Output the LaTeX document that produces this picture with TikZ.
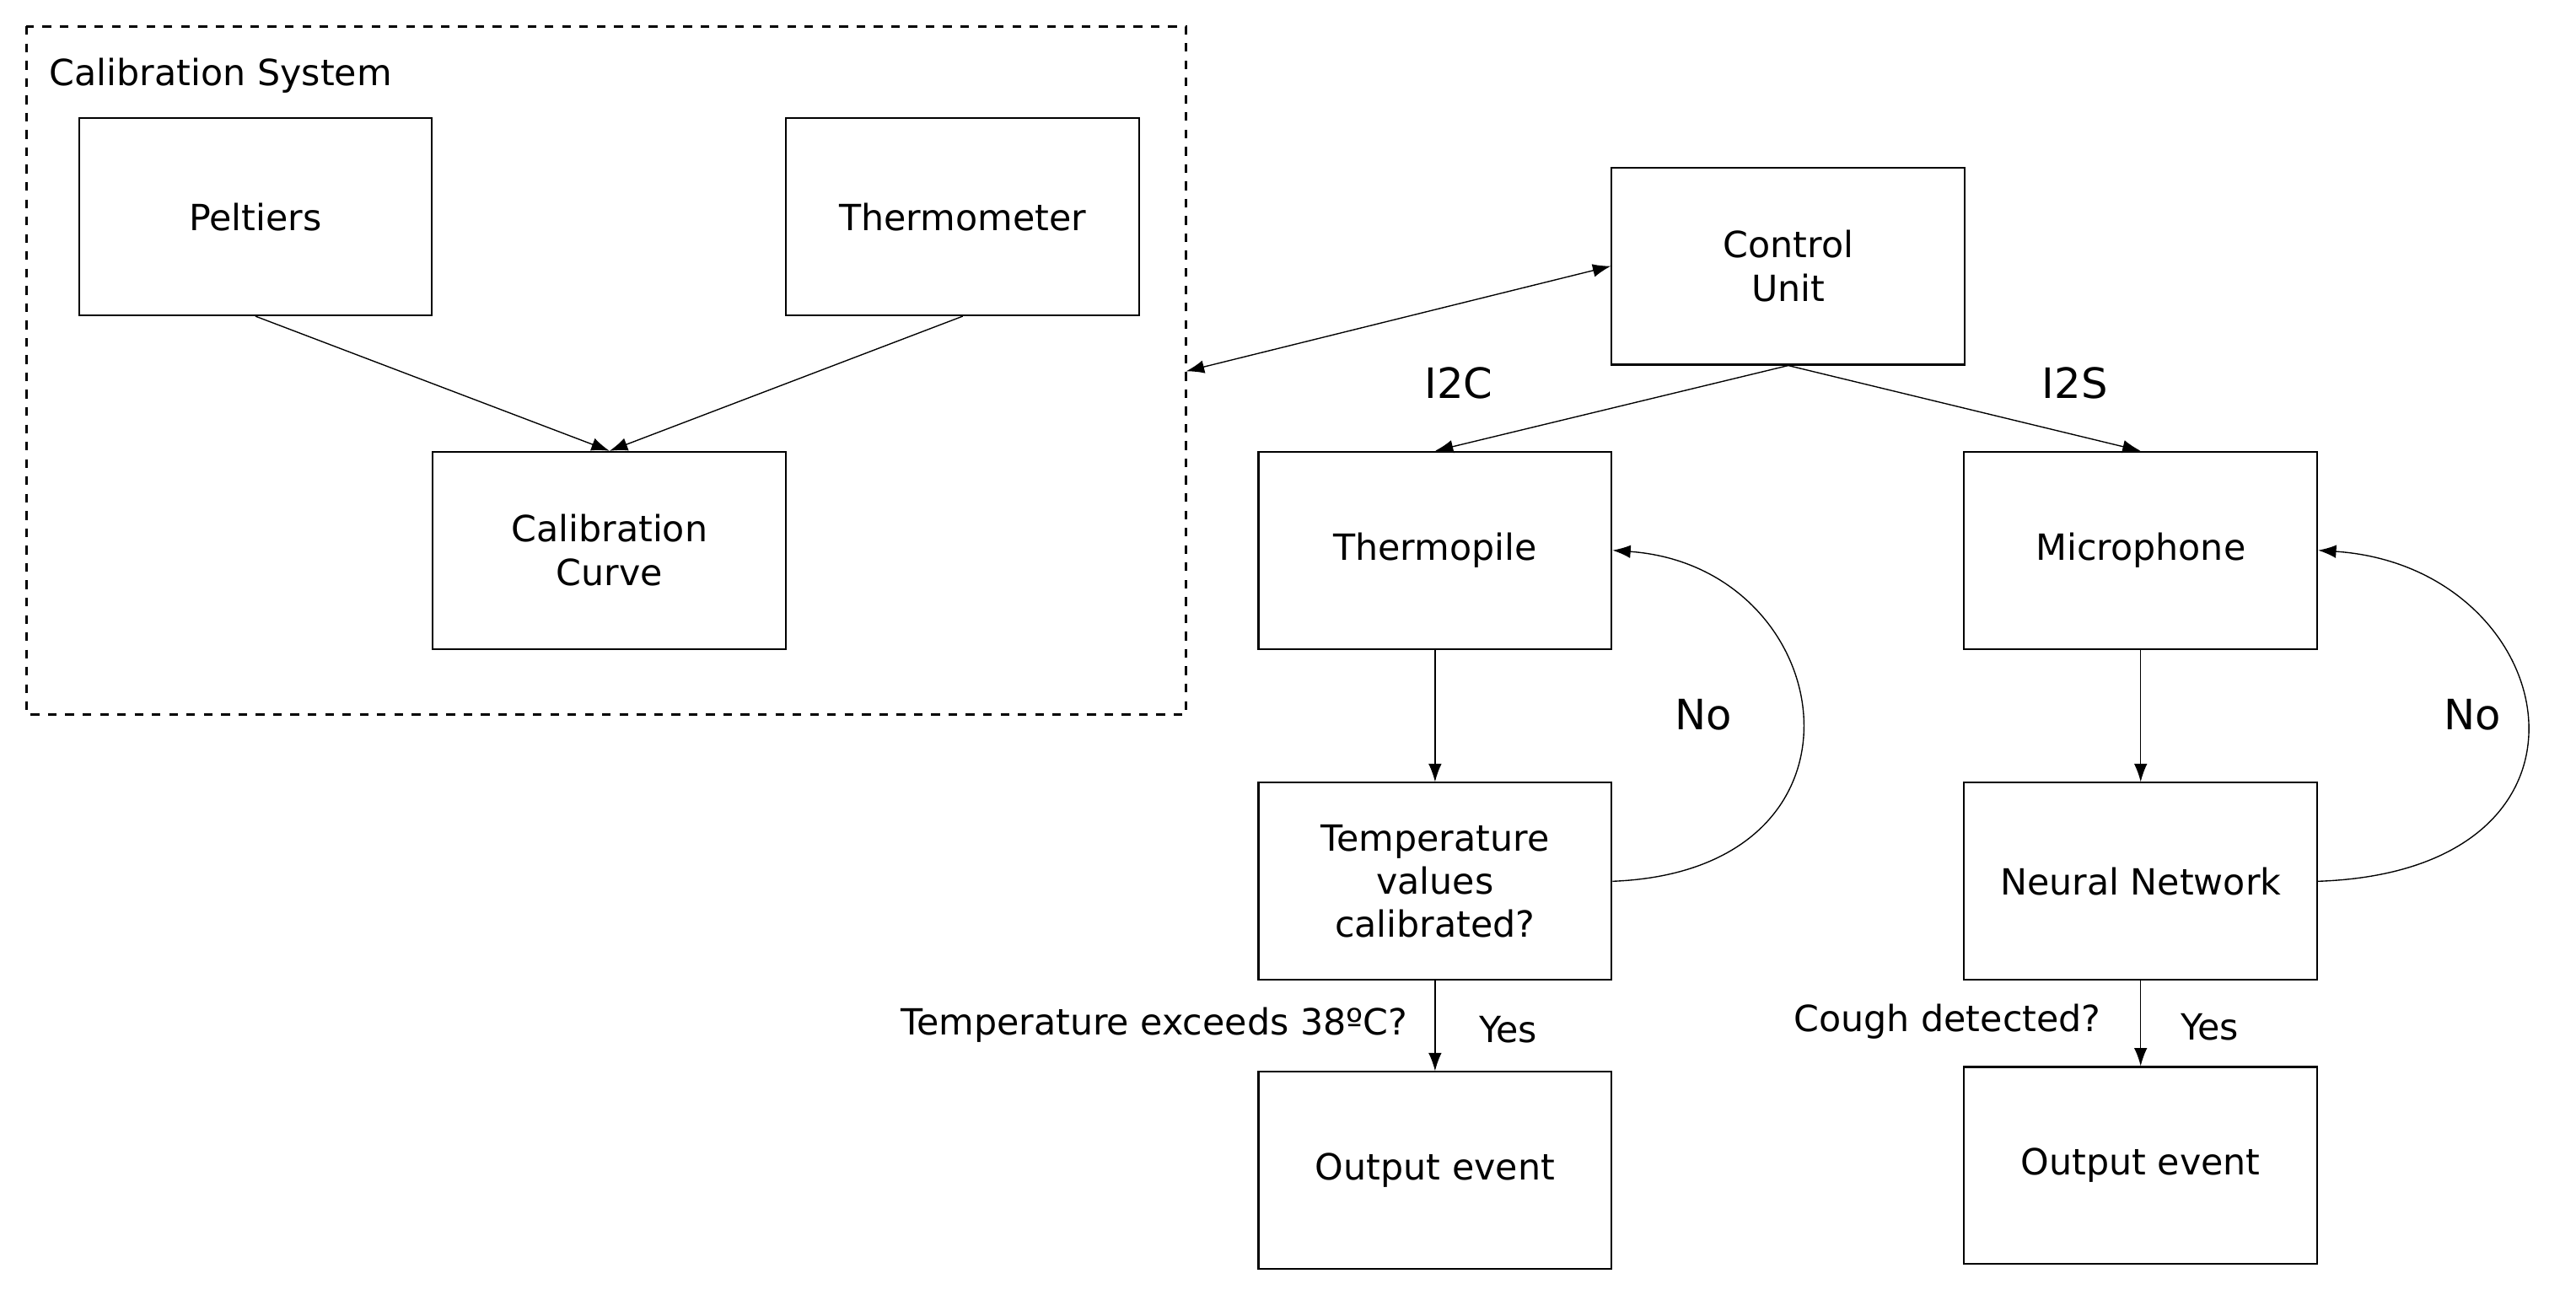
\documentclass[tikz,border=0pt]{standalone}
\usepackage{fontspec}
\setmainfont{DejaVu Sans}
\usetikzlibrary{positioning, arrows.meta}
\begin{document}
\begin{tikzpicture}[x=0.02cm,y=-0.02cm,font=\fontsize{12.5}{15}\selectfont,
  block/.style={draw, semithick, minimum width=4.3cm, minimum height=2.4cm, align=center},
  arr/.style={-{Latex[length=2.2mm,width=1.6mm]}},
  lbl/.style={font=\fontsize{14.5}{16}\selectfont}]
\useasboundingbox (0,0) rectangle (1568,788);

% Calibration system
\draw[dashed, thick] (16,16) rectangle (722,435);
\node[anchor=west] (calsys) at (24,46) {Calibration System};
\node[block] (peltiers) at (155.5,132) {Peltiers};
\node[block] (thermometer) at (586,132) {Thermometer};
\node[block] (curve) at (371,335) {Calibration\\Curve};
\coordinate (calright) at (722,226);

% Control and sensors
\node[block] (control) at (1088.5,162) {Control\\Unit};
\node[block] (thermopile) at (873.5,335) {Thermopile};
\node[block] (microphone) at (1303,335) {Microphone};
\node[block] (tempcal) at (873.5,536.5) {Temperature\\values\\calibrated?};
\node[block] (neural) at (1303,536.5) {Neural Network};
\node[block] (outleft) at (873.5,712.5) {Output event};
\node[block] (outright) at (1303,709.5) {Output event};

% Arrows
\draw[arr] (peltiers.south) -- (curve.north);
\draw[arr] (thermometer.south) -- (curve.north);
\draw[{Latex[length=2.2mm,width=1.6mm]}-{Latex[length=2.2mm,width=1.6mm]}] (calright) -- (control.west);
\draw[arr] (control.south) -- (thermopile.north);
\draw[arr] (control.south) -- (microphone.north);
\draw[arr] (thermopile.south) -- (tempcal.north);
\draw[arr] (microphone.south) -- (neural.north);
\draw[arr] (tempcal.east) .. controls (1150,530) and (1120,345) .. (thermopile.east);
\draw[arr] (neural.east) .. controls (1600,530) and (1560,345) .. (microphone.east);
\draw[arr] (tempcal.south) -- (outleft.north);
\draw[arr] (neural.south) -- (outright.north);

% Labels
\node[lbl] (i2c) at (888,233) {I2C};
\node[lbl] (i2s) at (1263,233) {I2S};
\node[lbl] (noleft) at (1037,435) {No};
\node[lbl] (noright) at (1505,435) {No};
\node (yesleft) at (918,627) {Yes};
\node (yesright) at (1345,625) {Yes};
\node[anchor=east] (tempq) at (863,624) {Temperature exceeds 38ºC?};
\node[anchor=east] (coughq) at (1285,622) {Cough detected?};
\end{tikzpicture}
\end{document}
